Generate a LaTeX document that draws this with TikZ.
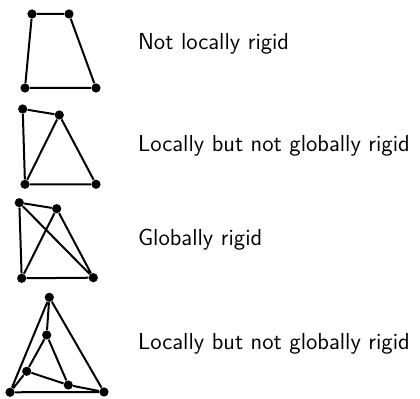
\documentclass[tikz,border=0pt]{standalone}
\begin{document}
\begin{tikzpicture}[x=0.5pt,y=-0.5pt,
  vtx/.style={circle,fill=black,inner sep=0pt,minimum size=4.6pt},
  edge/.style={line width=1pt,black},
  lbl/.style={anchor=base west,inner sep=0pt,font=\sffamily\fontsize{11.57}{14}\selectfont}]
\useasboundingbox (0,0) rectangle (420,399);
% Graph 1
\node[vtx] (a1) at (32,14) {};
\node[vtx] (b1) at (69,14) {};
\node[vtx] (c1) at (25,88) {};
\node[vtx] (d1) at (96,88) {};
\draw[edge] (a1) -- (b1) (a1) -- (c1) (b1) -- (d1) (c1) -- (d1);
\node[lbl] (t1) at (137.7,49.3) {Not locally rigid};
% Graph 2
\node[vtx] (a2) at (22.7,109) {};
\node[vtx] (b2) at (59.3,115) {};
\node[vtx] (c2) at (25,184.3) {};
\node[vtx] (d2) at (96,184.3) {};
\draw[edge] (a2) -- (b2) (a2) -- (c2) (b2) -- (c2) (b2) -- (d2) (c2) -- (d2);
\node[lbl] (t2) at (137.7,151.3) {Locally but not globally rigid};
% Graph 3
\node[vtx] (a3) at (19.3,202.7) {};
\node[vtx] (b3) at (56.7,208.7) {};
\node[vtx] (c3) at (21.7,278.3) {};
\node[vtx] (d3) at (93.3,277.7) {};
\draw[edge] (a3) -- (b3) (a3) -- (c3) (a3) -- (d3) (b3) -- (c3) (b3) -- (d3) (c3) -- (d3);
\node[lbl] (t3) at (137.7,245.7) {Globally rigid};
% Graph 4
\node[vtx] (top) at (49.3,297.3) {};
\node[vtx] (mid) at (46.7,335) {};
\node[vtx] (li) at (26.7,371.3) {};
\node[vtx] (ri) at (68.3,385) {};
\node[vtx] (bl) at (10,392.3) {};
\node[vtx] (br) at (104,392) {};
\draw[edge] (top) -- (bl) (top) -- (br) (top) -- (mid) (mid) -- (li) (mid) -- (ri)
  (li) -- (ri) (li) -- (bl) (ri) -- (br) (bl) -- (br);
\node[lbl] (t4) at (137.7,349.3) {Locally but not globally rigid};
\end{tikzpicture}
\end{document}
